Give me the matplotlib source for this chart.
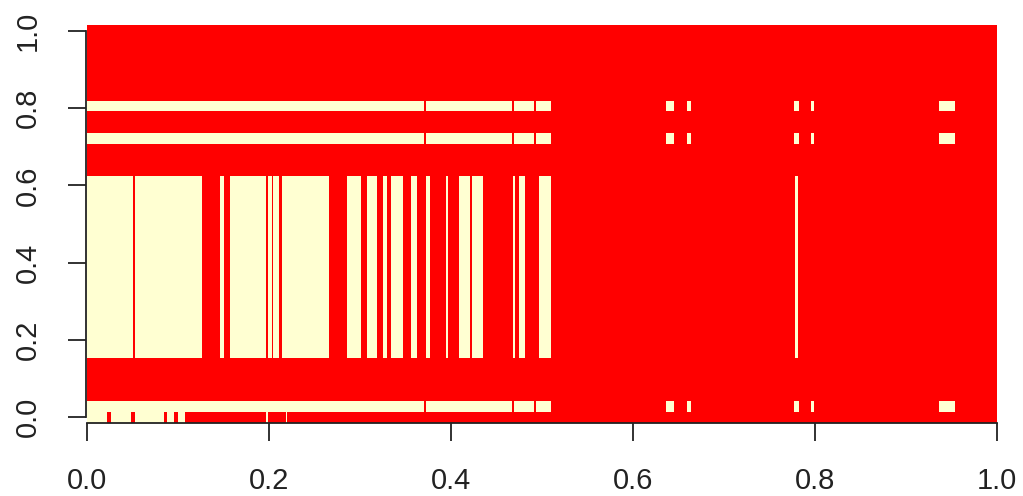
import matplotlib
matplotlib.use('Agg')
import matplotlib.pyplot as plt
import numpy as np
from matplotlib.colors import ListedColormap

# Binary matrix, 37 rows; cream runs given as x intervals per row pattern
n_rows = 37
rows_p0 = [0]
rows_p1 = [1, 26, 29]
rows_p2 = list(range(6, 23))

p0_cream = [(0.0, 0.022), (0.026, 0.048), (0.052, 0.084), (0.087, 0.095),
            (0.100, 0.107), (0.1967, 0.1989), (0.2187, 0.2198)]
p1_cream = [(0.0, 0.370), (0.3725, 0.467), (0.4685, 0.4905), (0.4925, 0.510),
            (0.636, 0.645), (0.659, 0.663), (0.777, 0.782), (0.795, 0.799),
            (0.936, 0.954)]
p2_cream = [(0.0, 0.0505), (0.0527, 0.1264), (0.1462, 0.1505), (0.1571, 0.1967),
            (0.1989, 0.2033), (0.2044, 0.2110), (0.2143, 0.2659), (0.2857, 0.3011),
            (0.3077, 0.3187), (0.3253, 0.3297), (0.3341, 0.3473), (0.3560, 0.3626),
            (0.3725, 0.3769), (0.3945, 0.3967), (0.4088, 0.4209), (0.4231, 0.4352),
            (0.4681, 0.4703), (0.4747, 0.4813), (0.4967, 0.5099), (0.7780, 0.7813)]

red = '#FF0000'
cream = '#FFFFD2'

plt.rcParams['font.family'] = ['Liberation Sans', 'DejaVu Sans']

# cell edges
half = 0.5 / (n_rows - 1)
y_edges = np.linspace(-half, 1 + half, n_rows + 1)
pts = {0.0, 1.0}
for seg in p0_cream + p1_cream + p2_cream:
    pts.update(seg)
x_edges = np.array(sorted(pts))
x_mid = (x_edges[:-1] + x_edges[1:]) / 2

def pattern(runs):
    row = np.zeros(len(x_mid))
    for a, b in runs:
        row[(x_mid > a) & (x_mid < b)] = 1
    return row

Z = np.zeros((n_rows, len(x_mid)))
for r in rows_p0:
    Z[r] = pattern(p0_cream)
for r in rows_p1:
    Z[r] = pattern(p1_cream)
for r in rows_p2:
    Z[r] = pattern(p2_cream)

fig = plt.figure(figsize=(10.23, 4.96), dpi=100)
ax = fig.add_axes([0.0845, 0.1478, 0.8913, 0.801])
ax.pcolormesh(x_edges, y_edges, Z, cmap=ListedColormap([red, cream]),
              vmin=0, vmax=1, edgecolors='none', antialiased=False)
ax.set_xlim(-0.001, 1.001)
ax.set_ylim(-half, 1 + half)

ticks = [0.0, 0.2, 0.4, 0.6, 0.8, 1.0]
ax.set_xticks(ticks)
ax.set_yticks(ticks)
ax.set_xticklabels([f'{t:.1f}' for t in ticks])
ax.set_yticklabels([f'{t:.1f}' for t in ticks])
plt.setp(ax.get_yticklabels(), rotation=90, va='center')
ax.tick_params(direction='out', length=13, width=1.3, labelsize=21, pad=19,
               colors='#222222', labelcolor='#222222')

for s in ['top', 'right']:
    ax.spines[s].set_visible(False)
ax.spines['left'].set_bounds(0, 1)
ax.spines['bottom'].set_bounds(0, 1)
for s in ['left', 'bottom']:
    ax.spines[s].set_linewidth(1.3)
    ax.spines[s].set_color('#222222')

fig.savefig('out.png', dpi=100)
